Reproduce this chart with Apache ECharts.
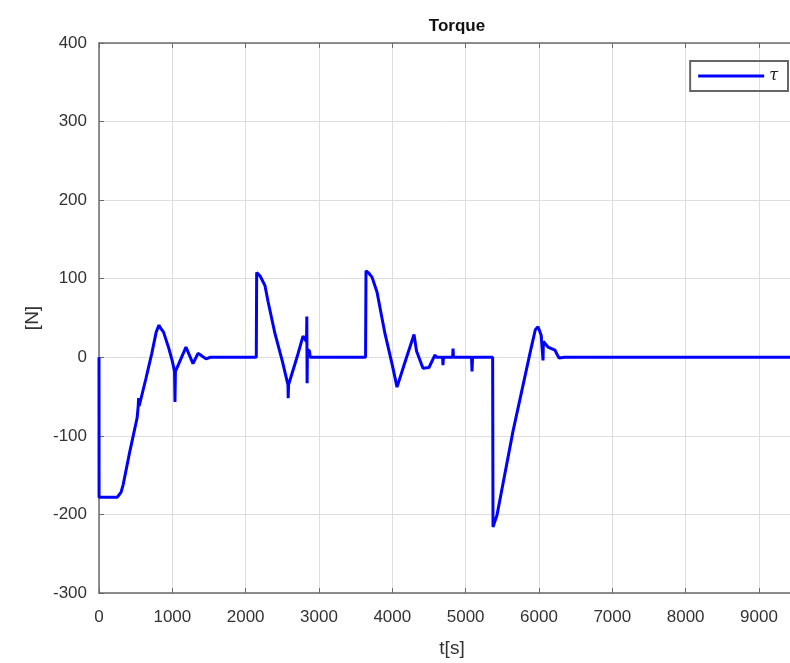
<!DOCTYPE html>
<html>
<head>
<meta charset="utf-8">
<script src="https://cdn.jsdelivr.net/npm/echarts@6/dist/echarts.min.js"></script>
<style>html,body{margin:0;padding:0;background:#fff}#c{width:790px;height:663px}</style>
</head>
<body>
<div id="c"></div>
<script>
const timeS = [0,1,250,275,300,330,420,520,535,540,548,560,640,720,780,818,840,860,880,950,1000,1030,1036,1042,1080,1186,1282,1350,1400,1459,1520,2145,2150,2200,2264,2305,2400,2500,2577,2580,2585,2700,2782,2830,2834,2838,2842,2870,2880,3635,3641,3680,3723,3791,3900,4000,4064,4180,4296,4330,4418,4500,4582,4600,4685,4691,4697,4822,4828,4834,5080,5087,5094,5368,5373,5427,5646,5891,5950,5987,6030,6050,6055,6060,6123,6218,6273,6350,9423];
const torqueN = [0,-178,-178,-175,-172,-162,-120,-77,-62,-52,-62,-60,-27,5,32,41,37,38,32,12,-5,-18,-57,-18,-10,13,-8,5,2,-2,0,0,108,103,91,71,30,-5,-35,-52,-35,0,27,20,52,-33,10,8,0,0,110,107,102,83,30,-10,-38,-4,29,8,-14,-13,3,0,0,-10,0,0,11,0,0,-18,0,0,-216,-201,-94,11,35,39,28,27,-4,20,13,9,-1,0,0];
const xTicks = [0,1000,2000,3000,4000,5000,6000,7000,8000,9000];
const yTicks = [-300,-200,-100,0,100,200,300,400];

const chart = echarts.init(document.getElementById('c'));
const axisCol = '#6b6b6b';
const fam = 'Liberation Sans, Arial, sans-serif';
const labelFont = {color:'#333', fontSize:17, fontFamily:fam};
chart.setOption({
  animation:false,
  title:{text:'Torque', left:452, top:13, textAlign:'center',
    textStyle:{fontSize:17, fontWeight:'bold', color:'#111', fontFamily:fam}},
  legend:{right:2, top:61, data:['τ'], icon:'rect', itemWidth:66, itemHeight:3,
    borderColor:'#666', borderWidth:2, borderRadius:0, padding:[7,10,7,8], itemGap:4,
    textStyle:{fontSize:16, fontStyle:'italic', fontFamily:'DejaVu Serif, serif', color:'#222', padding:[6,0,0,0]}},
  grid:{left:99, right:0, top:43, bottom:68},
  xAxis:[{type:'value', min:0, max:9423, interval:1000,
    name:'t[s]', nameLocation:'middle', nameGap:46,
    nameTextStyle:{fontSize:19, color:'#333', fontFamily:fam, padding:[0,0,0,15]},
    axisLine:{onZero:false, lineStyle:{color:axisCol, width:1.5}},
    axisTick:{inside:true, length:5, lineStyle:{color:axisCol}},
    axisLabel:Object.assign({margin:16, showMaxLabel:false,
      formatter:v=>xTicks.includes(v)?String(v):''}, labelFont),
    splitLine:{show:true, lineStyle:{color:'#dedede', width:1}}},
   {type:'value', position:'top', min:0, max:9423, interval:1000,
    axisLine:{show:true, onZero:false, lineStyle:{color:axisCol, width:1.5}},
    axisTick:{inside:true, length:5, lineStyle:{color:axisCol}},
    axisLabel:{show:false}, splitLine:{show:false}}],
  yAxis:{type:'value', min:-300, max:400, interval:100,
    name:'[N]', nameLocation:'middle', nameGap:54,
    nameTextStyle:{fontSize:19, color:'#333', fontFamily:fam},
    axisLine:{show:true, onZero:false, lineStyle:{color:axisCol, width:1.5}},
    axisTick:{show:true, inside:true, length:5, lineStyle:{color:axisCol}},
    axisLabel:Object.assign({margin:12, formatter:v=>yTicks.includes(v)?String(v):''}, labelFont),
    splitLine:{show:true, lineStyle:{color:'#dedede', width:1}}},
  series:[{name:'τ', type:'line', symbol:'none', showSymbol:false,
    data:timeS.map((t,i)=>[t,torqueN[i]]),
    lineStyle:{color:'#0000ff', width:3}, itemStyle:{color:'#0000ff'}}]
});
</script>
</body>
</html>
